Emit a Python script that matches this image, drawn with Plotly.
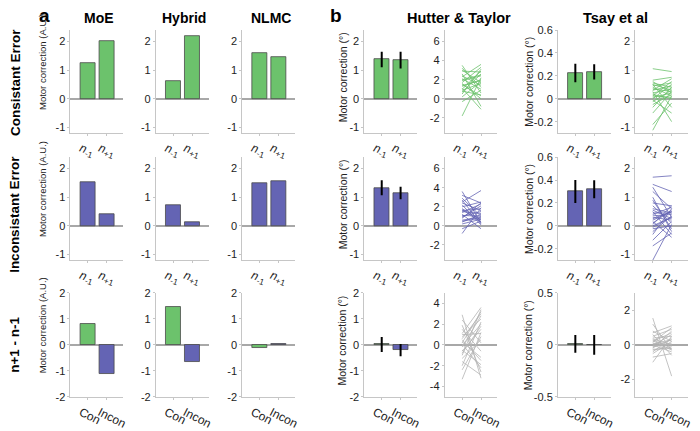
import plotly.graph_objects as go

W, H = 700, 431

# ---- data -------------------------------------------------------------
models = ['MoE', 'Hybrid', 'NLMC']
row_names = ['Consistant Error', 'Inconsistant Error', 'n+1 - n-1']
lag_labels = ['<i>n</i><sub>-1</sub>', '<i>n</i><sub>+1</sub>']
diff_labels = ['Con', 'Incon']

# model simulations (A.U.)  [n-1, n+1]
moe_con = [1.25, 2.02]
moe_incon = [1.53, 0.42]
moe_diff = [0.80, -1.12]
hybrid_con = [0.63, 2.18]
hybrid_incon = [0.74, 0.12]
hybrid_diff = [1.47, -0.65]
nlmc_con = [1.58, 1.46]
nlmc_incon = [1.49, 1.55]
nlmc_diff = [-0.12, 0.05]

# Hutter & Taylor (deg): group means and s.e.m.
hutter_con = [1.37, 1.35]
hutter_con_err = [0.27, 0.29]
hutter_incon = [1.33, 1.15]
hutter_incon_err = [0.26, 0.22]
hutter_diff = [0.02, -0.20]
hutter_diff_err = [0.29, 0.24]

# Tsay et al (deg)
tsay_con = [0.225, 0.235]
tsay_con_err = [0.08, 0.066]
tsay_incon = [0.30, 0.32]
tsay_incon_err = [0.10, 0.078]
tsay_diff = [0.01, 0.0]
tsay_diff_err = [0.085, 0.095]

# individual subjects, Hutter & Taylor
hutter_con_prev = [3.5, 3.2, 2.9, 2.6, 2.3, 2.1, 1.9, 1.7, 1.5, 1.3, 1.1, 0.9,
                   0.7, 0.5, 0.2, -0.3, -1.8, 2.4, 1.6, 1.0, 3.0, 0.8, 1.4, 2.0]
hutter_con_next = [0.6, 1.2, 2.8, -0.8, 3.6, 1.0, 2.4, 3.3, 0.3, 2.0, -1.1, 1.6,
                   2.6, 3.1, 1.8, 0.9, 2.2, 1.4, 0.0, 2.9, 1.7, 0.4, 1.9, 2.5]
hutter_incon_prev = [3.6, 3.2, 2.9, 2.5, 2.2, 2.0, 1.8, 1.6, 1.4, 1.2, 1.0, 0.8,
                     0.6, 0.4, 0.2, -0.3, -0.8, 2.7, 1.5, 0.9, 0.5, 1.7, 2.4, 1.1]
hutter_incon_next = [0.3, 2.4, 1.0, 3.7, 0.1, 2.5, 0.6, 1.8, 2.3, -0.3, 1.5, 2.4,
                     0.9, 1.2, 0.7, 0.5, 1.9, 0.2, 1.3, 2.1, 0.8, 0.4, 1.6, 1.0]
hutter_diff_con = [2.9, 2.4, 1.9, 1.1, 1.0, 0.8, 0.5, 0.2, 0.0, -0.2, -0.5, -0.8,
                   -1.0, -1.3, -1.6, -2.0, -2.4, -3.3, 0.3, -0.1, 1.5, 0.6, -0.6, 0.1]
hutter_diff_incon = [-3.2, 0.2, -2.6, 3.6, 1.1, 2.5, -1.5, 3.2, 0.0, 2.8, -1.9, 1.8,
                     3.4, 0.5, -2.9, 2.2, 0.8, 1.2, -1.2, 2.0, -0.6, 3.0, 1.5, -2.2]

# individual subjects, Tsay et al
tsay_con_prev = [1.05, 0.65, 0.6, 0.55, 0.5, 0.45, 0.4, 0.35, 0.3, 0.25, 0.2, 0.15, 0.1,
                 0.05, 0.0, -0.05, -0.1, -0.2, -0.3, -0.5, -1.1, -0.9, 0.5, 0.3, 0.1]
tsay_con_next = [0.95, 0.75, 0.2, 0.4, 0.3, 0.55, 0.1, 0.25, 0.45, -0.8, 0.35, 0.0, 0.6,
                 0.2, 0.5, -0.5, 0.3, 0.15, 0.4, 0.25, 0.1, -0.15, -0.3, 0.7, 0.05]
tsay_incon_prev = [1.7, 1.45, 1.35, 1.2, 1.0, 0.8, 0.7, 0.6, 0.5, 0.4, 0.3, 0.2, 0.15, 0.1,
                   0.0, -0.1, -0.2, -0.3, -0.5, -0.7, -1.2, 0.35, 0.05, 0.55, 0.25, 0.9, -0.05, 0.45]
tsay_incon_next = [1.75, 1.2, 0.3, 0.6, -0.2, 0.7, 0.1, 0.45, -0.3, 0.65, 0.2, 0.5, -0.4, 0.55,
                   0.3, 0.0, 0.35, 0.6, 0.15, -0.25, 0.05, 0.4, 0.7, 0.25, 0.5, -0.1, 0.3, 0.45]
tsay_diff_con = [1.55, 1.2, 0.8, 0.7, 0.6, 0.5, 0.4, 0.3, 0.2, 0.1, 0.05, 0.0, -0.05,
                 -0.1, -0.2, -0.3, -0.4, -0.5, -0.7, -1.0, 0.25, -0.15, 0.35, 0.15, -0.25]
tsay_diff_incon = [-1.8, -0.3, 0.2, 1.1, -0.6, 0.9, 0.5, -0.2, 0.7, 0.0, 0.3, -0.4, 0.6,
                   0.1, 0.8, -0.1, 0.4, 0.2, -0.5, 0.5, -0.3, 0.3, 0.0, 1.0, -0.2]

GREEN = '#6cc26c'
BLUE = '#6464b4'
GRAY = '#b4b4b4'
AXCOL = '#c6c6c6'
FONT = 'Liberation Sans, Arial, sans-serif'

# ---- layout geometry (pixels) -----------------------------------------
col_left = [71, 157, 244, 367, 448, 562, 640]
col_w = 53
row_box = [(25, 132), (157, 264), (298, 406)]

ranges = [
    [(-1.2, 2.4)] * 4 + [(-3.6, 7.2), (-0.3, 0.6), (-1.2, 2.4)],
    [(-1.2, 2.4)] * 4 + [(-3.6, 7.2), (-0.3, 0.6), (-1.2, 2.4)],
    [(-2, 2)] * 4 + [(-5, 5), (-0.5, 0.5), (-3, 3)],
]
ticks = [
    [[-1, 0, 1, 2]] * 4 + [[-2, 0, 2, 4, 6], [-0.2, 0, 0.2, 0.4, 0.6], [-1, 0, 1, 2]],
    [[-1, 0, 1, 2]] * 4 + [[-2, 0, 2, 4, 6], [-0.2, 0, 0.2, 0.4, 0.6], [-1, 0, 1, 2]],
    [[-2, -1, 0, 1, 2]] * 4 + [[-4, -2, 0, 2, 4], [-0.5, 0, 0.5], [-2, 0, 2]],
]

fig = go.Figure()


def ax_id(r, c):
    n = r * 7 + c + 1
    return ('x', 'y') if n == 1 else (f'x{n}', f'y{n}')


def add_bars(r, c, vals, colors, err=None):
    xa, ya = ax_id(r, c)
    fig.add_trace(go.Bar(
        x=[1, 2], y=vals, width=0.8, xaxis=xa, yaxis=ya,
        marker=dict(color=colors, line=dict(color='#4a4a4a', width=0.8)),
        error_y=dict(type='data', array=err, color='black', thickness=2, width=0,
                     visible=err is not None),
        showlegend=False))


def add_subjects(r, c, prev, nxt, color):
    xa, ya = ax_id(r, c)
    xs, ys = [], []
    for a, b in zip(prev, nxt):
        xs += [1, 2, None]
        ys += [a, b, None]
    fig.add_trace(go.Scatter(x=xs, y=ys, mode='lines', xaxis=xa, yaxis=ya,
                             line=dict(color=color, width=0.8), showlegend=False))


# row 1 - consistent
add_bars(0, 0, moe_con, [GREEN, GREEN])
add_bars(0, 1, hybrid_con, [GREEN, GREEN])
add_bars(0, 2, nlmc_con, [GREEN, GREEN])
add_bars(0, 3, hutter_con, [GREEN, GREEN], hutter_con_err)
add_subjects(0, 4, hutter_con_prev, hutter_con_next, GREEN)
add_bars(0, 5, tsay_con, [GREEN, GREEN], tsay_con_err)
add_subjects(0, 6, tsay_con_prev, tsay_con_next, GREEN)
# row 2 - inconsistent
add_bars(1, 0, moe_incon, [BLUE, BLUE])
add_bars(1, 1, hybrid_incon, [BLUE, BLUE])
add_bars(1, 2, nlmc_incon, [BLUE, BLUE])
add_bars(1, 3, hutter_incon, [BLUE, BLUE], hutter_incon_err)
add_subjects(1, 4, hutter_incon_prev, hutter_incon_next, BLUE)
add_bars(1, 5, tsay_incon, [BLUE, BLUE], tsay_incon_err)
add_subjects(1, 6, tsay_incon_prev, tsay_incon_next, BLUE)
# row 3 - difference
add_bars(2, 0, moe_diff, [GREEN, BLUE])
add_bars(2, 1, hybrid_diff, [GREEN, BLUE])
add_bars(2, 2, nlmc_diff, [GREEN, BLUE])
add_bars(2, 3, hutter_diff, [GREEN, BLUE], hutter_diff_err)
add_subjects(2, 4, hutter_diff_con, hutter_diff_incon, GRAY)
add_bars(2, 5, tsay_diff, [GREEN, BLUE], tsay_diff_err)
add_subjects(2, 6, tsay_diff_con, tsay_diff_incon, GRAY)


def fmt(v):
    return '%g' % v


for r in range(3):
    top, bot = row_box[r]
    for c in range(7):
        n = r * 7 + c + 1
        xk = 'xaxis' if n == 1 else f'xaxis{n}'
        yk = 'yaxis' if n == 1 else f'yaxis{n}'
        xa, ya = ax_id(r, c)
        fig.layout[xk] = dict(
            domain=[col_left[c] / W, (col_left[c] + col_w) / W],
            anchor=ya, range=[0.08, 2.87], showgrid=False, zeroline=False,
            showline=True, linecolor=AXCOL, linewidth=1,
            ticks='outside', ticklen=2, tickcolor=AXCOL,
            tickvals=[1, 2], ticktext=diff_labels if r == 2 else lag_labels,
            tickangle=27 if r == 2 else 20, ticklabelshift=-7, ticklabelstandoff=1,
            tickfont=dict(size=12, color='#222', family=FONT))
        fig.layout[yk] = dict(
            domain=[1 - bot / H, 1 - top / H], anchor=xa,
            range=list(ranges[r][c]), showgrid=False,
            zeroline=True, zerolinecolor='#a8a8a8', zerolinewidth=1.5,
            showline=True, linecolor=AXCOL, linewidth=1,
            ticks='outside', ticklen=2, tickcolor=AXCOL,
            tickvals=ticks[r][c], ticktext=[fmt(v) for v in ticks[r][c]],
            tickfont=dict(size=11, color='#222', family=FONT))

ann = []


def label(text, x, y, size, angle=0, color='black'):
    ann.append(dict(text=text, x=x / W, y=1 - y / H, xref='paper', yref='paper',
                    xanchor='center', yanchor='middle', textangle=angle,
                    showarrow=False, font=dict(size=size, color=color, family=FONT)))


# column titles
for c, name in enumerate(models):
    label('<b>%s</b>' % name, col_left[c] + col_w / 2 + 2, 12, 14)
label('<b>Hutter & Taylor</b>', 462, 12, 14.5)
label('<b>Tsay et al</b>', 620, 12, 14.5)
# panel letters
label('<b>a</b>', 45, 10, 19)
label('<b>b</b>', 338, 10, 19)
# row labels
for name, yc in zip(row_names, [79, 216, 352]):
    label('<b>%s</b>' % name, 15, yc, 13.5, angle=-90)
# y-axis titles
for r in range(3):
    top, bot = row_box[r]
    mid = (top + bot) / 2
    label('Motor correction (A.U.)', 43, mid - 20, 9.5, angle=-90, color='#222')
    label('Motor correction (°)', 345, mid - 4, 10.5, angle=-90, color='#222')
    label('Motor correction (°)', 532, mid, 10.5, angle=-90, color='#222')

fig.update_layout(width=W, height=H, margin=dict(l=0, r=0, t=0, b=0),
                  paper_bgcolor='white', plot_bgcolor='white',
                  annotations=ann, bargap=0, showlegend=False,
                  font=dict(family=FONT))

fig.write_html("out.html", config={'displayModeBar': False},
               post_script="document.body.style.margin='0';")
